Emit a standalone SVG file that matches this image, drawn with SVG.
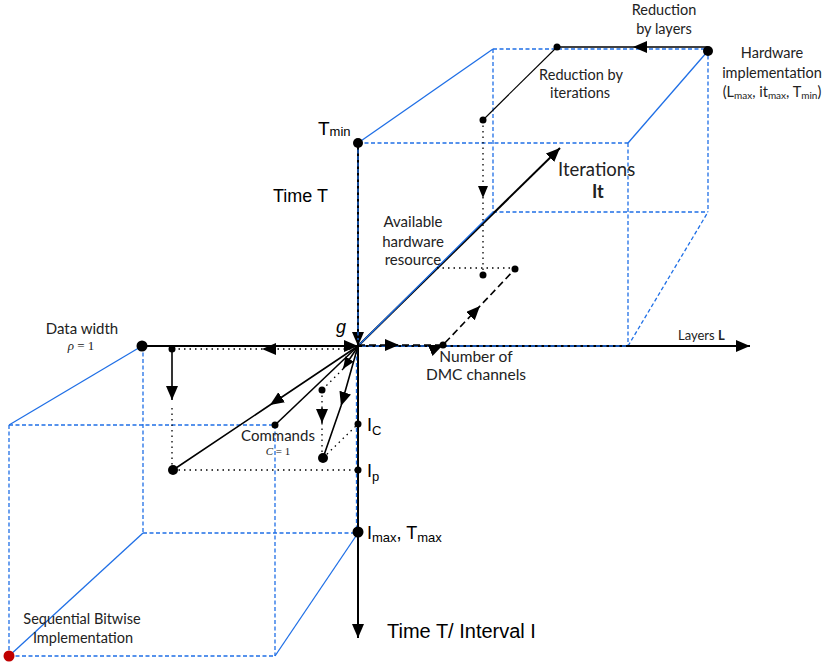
<svg xmlns="http://www.w3.org/2000/svg" width="827" height="663" viewBox="0 0 827 663">
  <style>
    .edge { fill: none; stroke: #1f6fe6; stroke-width: 1.3; }
    .edge-d { fill: none; stroke: #1f6fe6; stroke-width: 1.3; stroke-dasharray: 4 2.5; }
    .axis { fill: none; stroke: #000; stroke-width: 2; }
    .ln { fill: none; stroke: #000; stroke-width: 1.6; }
    .thin { fill: none; stroke: #000; stroke-width: 1.1; }
    .dot-ln { fill: none; stroke: #000; stroke-width: 1.3; stroke-dasharray: 1.5 4; }
    .dash-ln { fill: none; stroke: #000; stroke-width: 1.6; stroke-dasharray: 7 4; }
    .pt { fill: #000; }
    .cal { font-family: Lato, "Open Sans", sans-serif; fill: #222; }
    .ari { font-family: "Liberation Sans", Arial, sans-serif; fill: #000; }
    .tim { font-family: "Liberation Serif", "Times New Roman", serif; fill: #222; }
  </style>
  <defs>
    <marker id="ah" markerUnits="userSpaceOnUse" markerWidth="16" markerHeight="14" refX="14" refY="6" orient="auto">
      <path d="M0,0 L14,6 L0,12 z" fill="#000"/>
    </marker>
    <marker id="ahs" markerUnits="userSpaceOnUse" markerWidth="14" markerHeight="12" refX="12" refY="5" orient="auto">
      <path d="M0,0 L12,5 L0,10 z" fill="#000"/>
    </marker>
  </defs>

  <!-- hardware implementation box (upper right) -->
  <g id="box-hardware">
    <line class="edge-d" x1="493" y1="49" x2="708" y2="49"/>
    <line class="edge-d" x1="493" y1="49" x2="493" y2="212"/>
    <line class="edge-d" x1="708" y1="49" x2="708" y2="212"/>
    <line class="edge-d" x1="493" y1="212" x2="708" y2="212"/>
    <line class="edge-d" x1="358" y1="143" x2="628" y2="143"/>
    <line class="edge-d" x1="628" y1="143" x2="628" y2="346"/>
    <line class="edge" x1="358" y1="143" x2="493" y2="49"/>
    <line class="edge" x1="628" y1="143" x2="707" y2="52"/>
    <line class="edge-d" x1="628" y1="346" x2="708" y2="212"/>
  </g>

  <!-- sequential bitwise box (lower left) -->
  <g id="box-sequential">
    <line class="edge-d" x1="143" y1="346" x2="143" y2="533"/>
    <line class="edge-d" x1="143" y1="533" x2="358" y2="533"/>
    <line class="edge-d" x1="9" y1="425" x2="275" y2="425"/>
    <line class="edge-d" x1="9" y1="425" x2="9" y2="656"/>
    <line class="edge-d" x1="275" y1="425" x2="275" y2="656"/>
    <line class="edge-d" x1="9" y1="656" x2="275" y2="656"/>
    <line class="edge" x1="142" y1="346" x2="9" y2="425"/>
    <line class="edge" x1="143" y1="533" x2="9" y2="656"/>
    <line class="edge" x1="358" y1="533" x2="275" y2="656"/>
  </g>

  <!-- axes and trajectories -->
  <g id="connectors">
    <line class="axis" x1="358" y1="143" x2="358" y2="346" marker-end="url(#ah)" stroke-width="1.6"/>
    <line class="edge-d" x1="358" y1="143" x2="358" y2="340"/>
    <line class="axis" x1="142" y1="346" x2="358" y2="346" marker-end="url(#ah)" stroke-width="2.2"/>
    <line class="axis" x1="358" y1="346" x2="750" y2="346" marker-end="url(#ah)"/>
    <line class="edge-d" x1="362" y1="346" x2="628" y2="346"/>
    <line class="axis" x1="358" y1="346" x2="358" y2="638" marker-end="url(#ah)"/>
    <line class="edge-d" x1="356.5" y1="350" x2="356.5" y2="533"/>
    <line class="axis" x1="358" y1="346" x2="560" y2="148" marker-end="url(#ah)"/>
    <line class="edge" x1="359" y1="345" x2="493" y2="212"/>

    <!-- number of DMC channels / available hardware -->
    <path class="dash-ln" d="M358,345 L399,345 L443,345 L480,306 L515,269" marker-mid="url(#ah)"/>
    <line class="dot-ln" x1="437" y1="268" x2="515" y2="268"/>
    <path class="dot-ln" d="M483,120 L483,198 L483,275" marker-mid="url(#ahs)"/>

    <!-- reductions -->
    <line class="thin" x1="483" y1="120" x2="557" y2="47"/>
    <path class="ln" d="M708,47 L633,47 L557,47" marker-mid="url(#ah)" stroke-width="1.8"/>

    <!-- data width trajectory -->
    <path class="dot-ln" d="M356,349 L262,349 L172,349" marker-mid="url(#ah)" stroke-dasharray="2 1.5"/>
    <line class="ln" x1="172" y1="349" x2="172" y2="400" marker-end="url(#ah)"/>
    <line class="dot-ln" x1="172" y1="408" x2="172" y2="470"/>
    <path class="ln" d="M358,346 L270,405 L173,470" marker-mid="url(#ah)" stroke-width="1.8"/>
    <line class="dot-ln" x1="173" y1="470" x2="358" y2="470"/>

    <!-- commands trajectory -->
    <line class="ln" x1="358" y1="346" x2="275" y2="425" stroke-width="1.8"/>
    <line class="ln" x1="357" y1="348" x2="343" y2="369" marker-end="url(#ahs)"/>
    <line class="dot-ln" x1="343" y1="369" x2="322" y2="390"/>
    <line class="dot-ln" x1="322" y1="390" x2="322" y2="412"/>
    <line class="ln" x1="322" y1="408" x2="322" y2="423" marker-end="url(#ah)" stroke-width="1"/>
    <line class="dot-ln" x1="322" y1="423" x2="322" y2="458"/>
    <path class="ln" d="M358,346 L341,406 L323,458" marker-mid="url(#ah)"/>
    <line class="dot-ln" x1="323" y1="458" x2="358" y2="424"/>
  </g>

  <!-- points -->
  <g id="points">
    <circle class="pt" cx="358" cy="143" r="5"/>
    <circle class="pt" cx="708" cy="51" r="5"/>
    <circle class="pt" cx="557" cy="47" r="3.5"/>
    <circle class="pt" cx="483" cy="120" r="3.5"/>
    <circle class="pt" cx="515" cy="269" r="3.5"/>
    <circle class="pt" cx="483" cy="275" r="3.5"/>
    <circle class="pt" cx="443" cy="345" r="3.5"/>
    <circle class="pt" cx="142" cy="346" r="5.5"/>
    <circle class="pt" cx="172" cy="349" r="3.5"/>
    <circle class="pt" cx="173" cy="470" r="5"/>
    <circle class="pt" cx="275" cy="425" r="3.5"/>
    <circle class="pt" cx="322" cy="390" r="3.5"/>
    <circle class="pt" cx="323" cy="458" r="5"/>
    <circle class="pt" cx="358" cy="424" r="3.5"/>
    <circle class="pt" cx="358" cy="470" r="3.5"/>
    <circle class="pt" cx="358" cy="532" r="5.5"/>
    <circle cx="9" cy="656" r="5.5" fill="#c00000"/>
  </g>

  <!-- labels -->
  <g id="labels">
    <text class="cal" font-size="14.5" text-anchor="middle" x="664" y="15">Reduction</text>
    <text class="cal" font-size="14.5" text-anchor="middle" x="664" y="34">by layers</text>
    <text class="cal" font-size="14.5" text-anchor="middle" x="772" y="58">Hardware</text>
    <text class="cal" font-size="14.5" text-anchor="middle" x="772" y="78">implementation</text>
    <text class="cal" font-size="14.5" text-anchor="middle" x="772" y="97">(L<tspan font-size="10" dy="2">max</tspan><tspan dy="-2">, it</tspan><tspan font-size="10" dy="2">max</tspan><tspan dy="-2">, T</tspan><tspan font-size="10" dy="2">min</tspan><tspan dy="-2">)</tspan></text>
    <text class="cal" font-size="14.5" text-anchor="middle" x="581" y="80">Reduction by</text>
    <text class="cal" font-size="14.5" text-anchor="middle" x="580" y="98">iterations</text>
    <text class="ari" font-size="19" x="318" y="135">T<tspan font-size="13" dy="1">min</tspan></text>
    <text class="ari" font-size="18" x="273" y="202">Time T</text>
    <text class="cal" font-size="18.5" x="558" y="176">Iterations</text>
    <text class="cal" font-size="18" font-weight="bold" x="592" y="198">It</text>
    <text class="cal" font-size="15" text-anchor="middle" x="413" y="227">Available</text>
    <text class="cal" font-size="15" text-anchor="middle" x="413" y="247">hardware</text>
    <text class="cal" font-size="15" text-anchor="middle" x="413" y="265">resource</text>
    <text class="cal" font-size="13" x="678" y="340">Layers <tspan font-weight="bold">L</tspan></text>
    <text class="cal" font-size="15.5" text-anchor="middle" x="476" y="362">Number of</text>
    <text class="cal" font-size="15.5" text-anchor="middle" x="476" y="380">DMC channels</text>
    <text class="ari" font-size="18" font-style="italic" x="336" y="333">g</text>
    <text class="cal" font-size="15" text-anchor="middle" x="82" y="334">Data width</text>
    <text class="tim" font-size="13" text-anchor="middle" x="81" y="350"><tspan font-style="italic">ρ</tspan> = 1</text>
    <text class="cal" font-size="15" text-anchor="middle" x="278" y="441">Commands</text>
    <text class="tim" font-size="11" text-anchor="middle" x="278" y="455"><tspan font-style="italic">C</tspan> = 1</text>
    <text class="ari" font-size="18" x="367" y="431">I<tspan font-size="13" dy="4">C</tspan></text>
    <text class="ari" font-size="18" x="367" y="477">I<tspan font-size="13" dy="4">p</tspan></text>
    <text class="ari" font-size="18" x="367" y="539">I<tspan font-size="13" dy="3">max</tspan><tspan dy="-3">, T</tspan><tspan font-size="13" dy="3">max</tspan></text>
    <text class="ari" font-size="20" x="387" y="638">Time T/ Interval I</text>
    <text class="cal" font-size="14.5" text-anchor="middle" x="82" y="624">Sequential Bitwise</text>
    <text class="cal" font-size="14.5" text-anchor="middle" x="83" y="643">Implementation</text>
  </g>
</svg>
